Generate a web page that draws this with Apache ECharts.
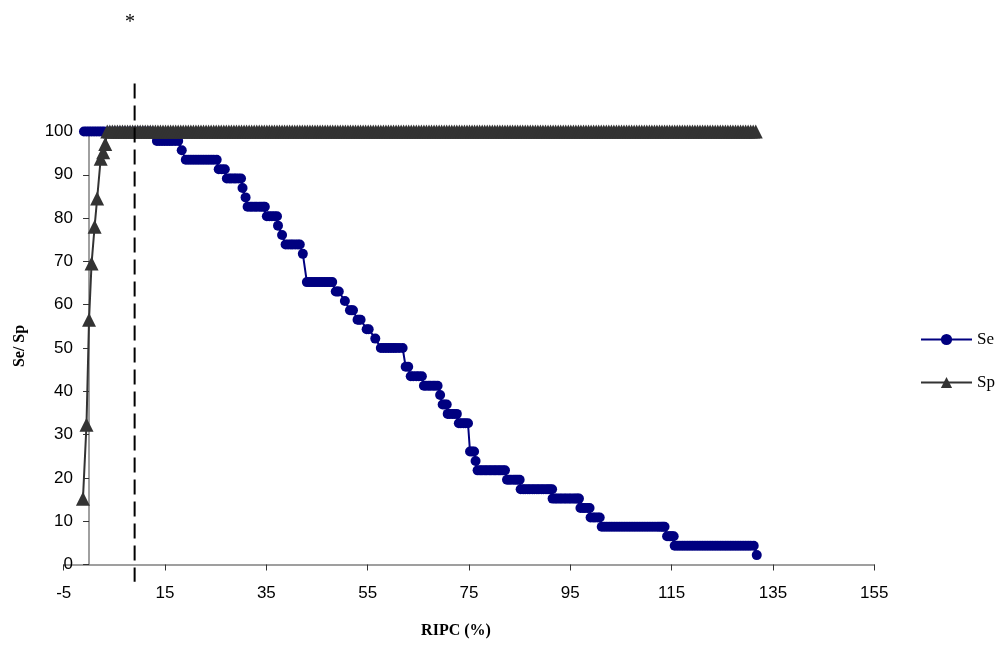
<!DOCTYPE html>
<html>
<head>
<meta charset="utf-8">
<script src="https://cdn.jsdelivr.net/npm/echarts@6/dist/echarts.min.js"></script>
<style>html,body{margin:0;padding:0;background:#fff}#c{width:1004px;height:648px}</style>
</head>
<body>
<div id="c"></div>
<script>
const xTicks = { min: -5, max: 155, interval: 20 };
const yTicks = { min: 0, max: 100, interval: 10 };
const cutoffX = 9;
const cutoffSpan = [111.1, -4];

const sePoints = [
[-1,100],[-0.5,100],[0,100],[0.5,100],[1,100],[1.5,100],[2,100],[2.5,100],[3,100],[4,100],[5,100],[6,100],[7,100],[8,100],[9,100],[10,100],[11,100],[12,100],
[13.4,97.83],[13.9,97.83],[14.4,97.83],[14.9,97.83],[15.4,97.83],[15.9,97.83],[16.4,97.83],[17.0,97.83],[17.6,97.83],
[18.3,95.65],
[19.1,93.48],[19.6,93.48],[20.1,93.48],[20.6,93.48],[21.1,93.48],[21.6,93.48],[22.1,93.48],[22.6,93.48],[23.1,93.48],[23.6,93.48],[24.1,93.48],[24.6,93.48],[25.2,93.48],
[25.6,91.3],[26.2,91.3],[26.8,91.3],
[27.2,89.13],[27.7,89.13],[28.1,89.13],[28.6,89.13],[29.0,89.13],[29.5,89.13],[30.0,89.13],
[30.3,86.96],
[30.9,84.78],
[31.3,82.61],[31.8,82.61],[32.2,82.61],[32.7,82.61],[33.1,82.61],[33.6,82.61],[34.0,82.61],[34.4,82.61],[34.7,82.61],
[35.1,80.43],[35.6,80.43],[36.1,80.43],[36.6,80.43],[37.1,80.43],
[37.3,78.26],
[38.1,76.09],
[38.8,73.91],[39.3,73.91],[39.8,73.91],[40.2,73.91],[40.7,73.91],[41.2,73.91],[41.6,73.91],
[42.2,71.74],
[43.0,65.22],[43.5,65.22],[44.0,65.22],[44.5,65.22],[45.0,65.22],[45.5,65.22],[46.0,65.22],[46.5,65.22],[47.0,65.22],[47.5,65.22],[48.0,65.22],
[48.7,63.04],[49.0,63.04],[49.3,63.04],
[50.5,60.87],
[51.5,58.7],[51.8,58.7],[52.1,58.7],
[53.0,56.52],[53.3,56.52],[53.6,56.52],
[54.8,54.35],[55.2,54.35],
[56.5,52.17],
[57.6,50],[58.1,50],[58.6,50],[59.1,50],[59.6,50],[60.1,50],[60.6,50],[61.2,50],[61.9,50],
[62.5,45.65],[63.0,45.65],
[63.5,43.48],[64.0,43.48],[64.6,43.48],[65.1,43.48],[65.7,43.48],
[66.1,41.3],[66.5,41.3],[67.0,41.3],[67.4,41.3],[67.9,41.3],[68.3,41.3],[68.8,41.3],
[69.3,39.13],
[69.8,36.96],[70.2,36.96],[70.6,36.96],
[70.8,34.78],[71.2,34.78],[71.7,34.78],[72.1,34.78],[72.6,34.78],
[73.0,32.61],[73.4,32.61],[73.9,32.61],[74.3,32.61],[74.8,32.61],
[75.2,26.09],[75.6,26.09],[76.0,26.09],
[76.3,23.91],
[76.7,21.74],[77.2,21.74],[77.6,21.74],[78.1,21.74],[78.5,21.74],[79.0,21.74],[79.4,21.74],[79.9,21.74],[80.3,21.74],[80.8,21.74],[81.2,21.74],[81.7,21.74],[82.1,21.74],
[82.5,19.57],[82.9,19.57],[83.3,19.57],[83.8,19.57],[84.2,19.57],[84.6,19.57],[85.0,19.57],
[85.2,17.39],[85.7,17.39],[86.1,17.39],[86.6,17.39],[87.0,17.39],[87.5,17.39],[87.9,17.39],[88.4,17.39],[88.8,17.39],[89.3,17.39],[89.7,17.39],[90.2,17.39],[90.6,17.39],[91.0,17.39],[91.4,17.39],
[91.5,15.22],[92.0,15.22],[92.4,15.22],[92.9,15.22],[93.3,15.22],[93.8,15.22],[94.2,15.22],[94.7,15.22],[95.1,15.22],[95.6,15.22],[96.0,15.22],[96.4,15.22],[96.7,15.22],
[97.0,13.04],[97.5,13.04],[97.9,13.04],[98.4,13.04],[98.8,13.04],
[99.0,10.87],[99.5,10.87],[99.9,10.87],[100.4,10.87],[100.8,10.87],
[101.2,8.7],[101.7,8.7],[102.2,8.7],[102.7,8.7],[103.2,8.7],[103.7,8.7],[104.2,8.7],[104.7,8.7],[105.2,8.7],[105.7,8.7],[106.2,8.7],[106.7,8.7],[107.2,8.7],[107.7,8.7],
[108.2,8.7],[108.7,8.7],[109.2,8.7],[109.7,8.7],[110.2,8.7],[110.7,8.7],[111.2,8.7],[111.7,8.7],[112.2,8.7],[112.6,8.7],[113.0,8.7],[113.3,8.7],[113.6,8.7],
[114.1,6.52],[114.5,6.52],[114.8,6.52],[115.1,6.52],[115.4,6.52],
[115.6,4.35],[116.1,4.35],[116.6,4.35],[117.1,4.35],[117.6,4.35],[118.1,4.35],[118.6,4.35],[119.1,4.35],[119.6,4.35],[120.1,4.35],[120.6,4.35],[121.1,4.35],[121.6,4.35],[122.1,4.35],[122.6,4.35],[123.1,4.35],
[123.6,4.35],[124.1,4.35],[124.6,4.35],[125.1,4.35],[125.6,4.35],[126.1,4.35],[126.6,4.35],[127.1,4.35],[127.6,4.35],[128.1,4.35],[128.6,4.35],[129.1,4.35],[129.6,4.35],[130.1,4.35],[130.6,4.35],[131.2,4.35],
[131.8,2.17]
];

const spPoints = [
[-1.2,15.2],[-0.5,32.3],[0,56.5],[0.5,69.5],[1.1,78],[1.6,84.5],[2.3,93.7],[2.8,95.2],[3.2,97.1],
[3.6,100],[4.1,100],[4.6,100],[5.1,100],[5.6,100],[6.1,100],[6.6,100],[7.1,100],[7.6,100],[8.1,100],
[8.6,100],[9.1,100],[9.6,100],[10.1,100],[10.6,100],[11.1,100],[11.6,100],[12.1,100],[12.6,100],[13.1,100],
[13.6,100],[14.1,100],[14.6,100],[15.1,100],[15.6,100],[16.1,100],[16.6,100],[17.1,100],[17.6,100],[18.1,100],
[18.6,100],[19.1,100],[19.6,100],[20.1,100],[20.6,100],[21.1,100],[21.6,100],[22.1,100],[22.6,100],[23.1,100],
[23.6,100],[24.1,100],[24.6,100],[25.1,100],[25.6,100],[26.1,100],[26.6,100],[27.1,100],[27.6,100],[28.1,100],
[28.6,100],[29.1,100],[29.6,100],[30.1,100],[30.6,100],[31.1,100],[31.6,100],[32.1,100],[32.6,100],[33.1,100],
[33.6,100],[34.1,100],[34.6,100],[35.1,100],[35.6,100],[36.1,100],[36.6,100],[37.1,100],[37.6,100],[38.1,100],
[38.6,100],[39.1,100],[39.6,100],[40.1,100],[40.6,100],[41.1,100],[41.6,100],[42.1,100],[42.6,100],[43.1,100],
[43.6,100],[44.1,100],[44.6,100],[45.1,100],[45.6,100],[46.1,100],[46.6,100],[47.1,100],[47.6,100],[48.1,100],
[48.6,100],[49.1,100],[49.6,100],[50.1,100],[50.6,100],[51.1,100],[51.6,100],[52.1,100],[52.6,100],[53.1,100],
[53.6,100],[54.1,100],[54.6,100],[55.1,100],[55.6,100],[56.1,100],[56.6,100],[57.1,100],[57.6,100],[58.1,100],
[58.6,100],[59.1,100],[59.6,100],[60.1,100],[60.6,100],[61.1,100],[61.6,100],[62.1,100],[62.6,100],[63.1,100],
[63.6,100],[64.1,100],[64.6,100],[65.1,100],[65.6,100],[66.1,100],[66.6,100],[67.1,100],[67.6,100],[68.1,100],
[68.6,100],[69.1,100],[69.6,100],[70.1,100],[70.6,100],[71.1,100],[71.6,100],[72.1,100],[72.6,100],[73.1,100],
[73.6,100],[74.1,100],[74.6,100],[75.1,100],[75.6,100],[76.1,100],[76.6,100],[77.1,100],[77.6,100],[78.1,100],
[78.6,100],[79.1,100],[79.6,100],[80.1,100],[80.6,100],[81.1,100],[81.6,100],[82.1,100],[82.6,100],[83.1,100],
[83.6,100],[84.1,100],[84.6,100],[85.1,100],[85.6,100],[86.1,100],[86.6,100],[87.1,100],[87.6,100],[88.1,100],
[88.6,100],[89.1,100],[89.6,100],[90.1,100],[90.6,100],[91.1,100],[91.6,100],[92.1,100],[92.6,100],[93.1,100],
[93.6,100],[94.1,100],[94.6,100],[95.1,100],[95.6,100],[96.1,100],[96.6,100],[97.1,100],[97.6,100],[98.1,100],
[98.6,100],[99.1,100],[99.6,100],[100.1,100],[100.6,100],[101.1,100],[101.6,100],[102.1,100],[102.6,100],[103.1,100],
[103.6,100],[104.1,100],[104.6,100],[105.1,100],[105.6,100],[106.1,100],[106.6,100],[107.1,100],[107.6,100],[108.1,100],
[108.6,100],[109.1,100],[109.6,100],[110.1,100],[110.6,100],[111.1,100],[111.6,100],[112.1,100],[112.6,100],[113.1,100],
[113.6,100],[114.1,100],[114.6,100],[115.1,100],[115.6,100],[116.1,100],[116.6,100],[117.1,100],[117.6,100],[118.1,100],
[118.6,100],[119.1,100],[119.6,100],[120.1,100],[120.6,100],[121.1,100],[121.6,100],[122.1,100],[122.6,100],[123.1,100],
[123.6,100],[124.1,100],[124.6,100],[125.1,100],[125.6,100],[126.1,100],[126.6,100],[127.1,100],[127.6,100],[128.1,100],
[128.6,100],[129.1,100],[129.6,100],[130.1,100],[130.6,100],[131.1,100],[131.6,100]
];

const chart = echarts.init(document.getElementById('c'), null, { renderer: 'canvas' });
const axisGray = '#808080';
const labelFont = { fontFamily: 'Liberation Sans', fontSize: 17, color: '#000' };
chart.setOption({
  animation: false,
  backgroundColor: '#fff',
  grid: { left: 63.7, right: 129.7, top: 131.5, bottom: 83.5, containLabel: false },
  xAxis: {
    type: 'value', min: xTicks.min, max: xTicks.max, interval: xTicks.interval,
    axisLine: { lineStyle: { color: axisGray, width: 1.5 } },
    axisTick: { inside: false, length: 6, lineStyle: { color: '#333', width: 1 } },
    axisLabel: Object.assign({ margin: 20 }, labelFont),
    splitLine: { show: false }
  },
  yAxis: {
    type: 'value', min: yTicks.min, max: yTicks.max, interval: yTicks.interval,
    axisLine: { show: true, onZero: true, lineStyle: { color: axisGray, width: 1.5 } },
    axisTick: { show: true, inside: false, length: 6, lineStyle: { color: '#333', width: 1 } },
    axisLabel: Object.assign({ margin: -9.3 }, labelFont),
    splitLine: { show: false }
  },
  legend: {
    data: ['Se', 'Sp'], orient: 'vertical', left: 915, top: 326,
    itemWidth: 51, itemHeight: 14, itemGap: 26,
    textStyle: { fontFamily: 'Liberation Serif', fontSize: 17, color: '#000' }
  },
  series: [
    {
      name: 'Se', type: 'line', data: sePoints,
      symbol: 'circle', symbolSize: 10,
      lineStyle: { color: '#000080', width: 2 },
      itemStyle: { color: '#000080' },
      z: 2
    },
    {
      name: 'Sp', type: 'line', data: spPoints,
      symbol: 'triangle', symbolSize: [14, 14],
      lineStyle: { color: '#333333', width: 2 },
      itemStyle: { color: '#333333' },
      z: 3
    },
    {
      name: 'cutoff', type: 'line', clip: false, silent: true,
      data: [[cutoffX, cutoffSpan[0]], [cutoffX, cutoffSpan[1]]],
      symbol: 'none',
      lineStyle: { color: '#000', width: 2, type: [15, 7] },
      z: 5
    }
  ],
  graphic: [
    { type: 'text', left: 125, top: 13, style: { text: '*', font: '20px "Liberation Serif"', fill: '#000' } },
    { type: 'text', x: 20, y: 346, rotation: Math.PI / 2,
      style: { text: 'Se/ Sp', font: 'bold 16px "Liberation Serif"', fill: '#000', align: 'center', verticalAlign: 'middle' } },
    { type: 'text', x: 456, y: 631,
      style: { text: 'RIPC (%)', font: 'bold 16px "Liberation Serif"', fill: '#000', align: 'center', verticalAlign: 'middle' } }
  ]
});
</script>
</body>
</html>
